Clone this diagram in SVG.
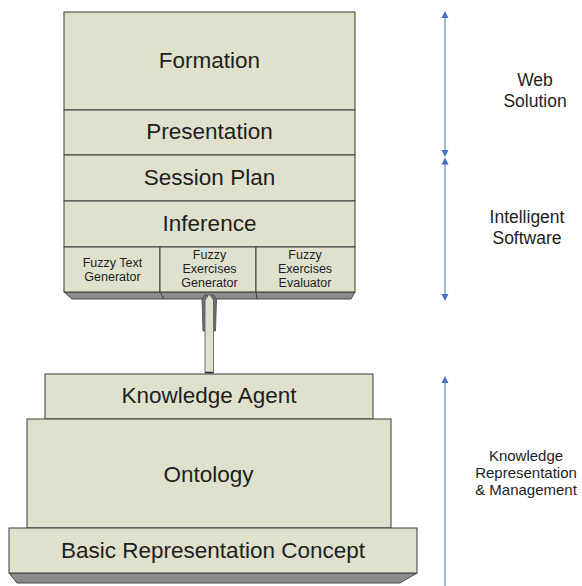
<svg xmlns="http://www.w3.org/2000/svg" width="582" height="586" viewBox="0 0 582 586">
  <style>
    .box { fill: #dfe1cc; stroke: #3a3a3a; stroke-width: 1; }
    .shade { fill: #8c8c8c; stroke: #4a4a4a; stroke-width: 1; }
    .t { font-family: "Liberation Sans", Arial, sans-serif; fill: #1e1e1e; text-anchor: middle; }
    .big { font-size: 22.5px; }
    .small { font-size: 12.5px; }
    .side { font-size: 17.5px; }
    .side2 { font-size: 15px; }
    .span { stroke: #7fa3da; stroke-width: 1.5; fill: none; }
    .head { fill: #4472c4; }
  </style>

  <!-- upper stack: web solution and intelligent software layers -->
  <g id="formation">
    <rect class="box" x="64" y="12" width="291" height="98"/>
    <text class="t big" x="209.5" y="68">Formation</text>
  </g>
  <g id="presentation">
    <rect class="box" x="64" y="110" width="291" height="45"/>
    <text class="t big" x="209.5" y="139">Presentation</text>
  </g>
  <g id="session-plan">
    <rect class="box" x="64" y="155" width="291" height="46"/>
    <text class="t big" x="209.5" y="185">Session Plan</text>
  </g>
  <g id="inference">
    <rect class="box" x="64" y="201" width="291" height="46"/>
    <text class="t big" x="209.5" y="231">Inference</text>
  </g>
  <g id="upper-base">
    <polygon class="shade" points="64,292 355,292 351,299 72,299"/>
    <line x1="160" y1="292" x2="164" y2="299" stroke="#3a3a3a" stroke-width="1"/>
    <line x1="256" y1="292" x2="257" y2="299" stroke="#3a3a3a" stroke-width="1"/>
  </g>
  <g id="fuzzy-text-generator">
    <rect class="box" x="64" y="247" width="96" height="45"/>
    <text class="t small" x="112.5" y="267">Fuzzy Text</text>
    <text class="t small" x="112.5" y="281">Generator</text>
  </g>
  <g id="fuzzy-exercises-generator">
    <rect class="box" x="160" y="247" width="96" height="45"/>
    <text class="t small" x="209.5" y="259">Fuzzy</text>
    <text class="t small" x="209.5" y="273">Exercises</text>
    <text class="t small" x="209.5" y="287">Generator</text>
  </g>
  <g id="fuzzy-exercises-evaluator">
    <rect class="box" x="256" y="247" width="99" height="45"/>
    <text class="t small" x="305" y="259">Fuzzy</text>
    <text class="t small" x="305" y="273">Exercises</text>
    <text class="t small" x="305" y="287">Evaluator</text>
  </g>

  <!-- lower stack: knowledge representation and management -->
  <g id="knowledge-agent">
    <rect class="box" x="45" y="374" width="328" height="45"/>
    <text class="t big" x="209" y="403">Knowledge Agent</text>
  </g>
  <g id="ontology">
    <rect class="box" x="27" y="419" width="364" height="109"/>
    <text class="t big" x="208.5" y="482">Ontology</text>
  </g>
  <g id="basic-representation-concept">
    <polygon class="shade" points="9,573 417,573 400,583 17,583"/>
    <rect class="box" x="9" y="528" width="408" height="45"/>
    <text class="t big" x="213" y="558">Basic Representation Concept</text>
  </g>

  <!-- connectors -->
  <g id="connectors">
    <!-- block arrow from the knowledge agent up to the exercises generator -->
    <polygon points="202,299 205,295 213.5,295 216.5,299 215.5,331 203,331" fill="#6f6f6f" stroke="#444" stroke-width="0.8"/>
    <polygon points="205,373 205,300 209.3,294 213.5,300 213.5,373" fill="#dfe1cc" stroke="#555" stroke-width="0.8"/>
    <line x1="205" y1="372.5" x2="213.5" y2="372.5" stroke="#333" stroke-width="1.5"/>

    <!-- span markers on the right -->
    <line class="span" x1="445" y1="17" x2="445" y2="151"/>
    <polygon class="head" points="445,11 441.5,18 448.5,18"/>
    <polygon class="head" points="445,157 441.5,150 448.5,150"/>

    <line class="span" x1="445" y1="163" x2="445" y2="295"/>
    <polygon class="head" points="445,157.5 441.5,164.5 448.5,164.5"/>
    <polygon class="head" points="445,301 441.5,294 448.5,294"/>

    <line class="span" x1="445" y1="382" x2="445" y2="586"/>
    <polygon class="head" points="445,376 441.5,383 448.5,383"/>
  </g>

  <!-- side labels -->
  <g id="label-web-solution">
    <text class="t side" x="535" y="86">Web</text>
    <text class="t side" x="535" y="107">Solution</text>
  </g>
  <g id="label-intelligent-software">
    <text class="t side" x="527" y="223">Intelligent</text>
    <text class="t side" x="527" y="244">Software</text>
  </g>
  <g id="label-knowledge-representation">
    <text class="t side2" x="526" y="461">Knowledge</text>
    <text class="t side2" x="526" y="478">Representation</text>
    <text class="t side2" x="526" y="495">&amp; Management</text>
  </g>
</svg>
